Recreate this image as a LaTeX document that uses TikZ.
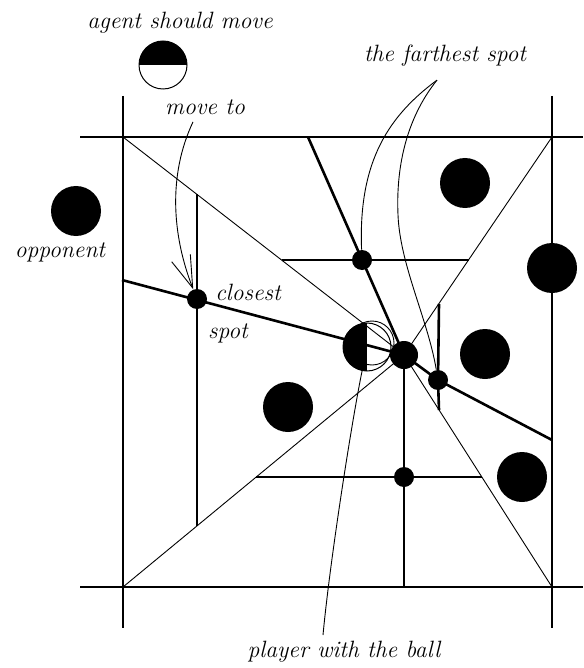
\documentclass[tikz,border=0pt]{standalone}
\usepackage{tikz}
\usetikzlibrary{arrows.meta,calc}

\begin{document}
\begin{tikzpicture}[x=0.5pt, y=-0.5pt,
  field/.style={line width=0.6pt},
  wedge/.style={line width=0.45pt},
  cell/.style={line width=1.3pt},
  pointer/.style={line width=0.45pt},
  opp/.style={circle, fill=black, minimum size=25pt, inner sep=0pt},
  spot/.style={circle, fill=black, minimum size=10pt, inner sep=0pt},
  balldot/.style={circle, fill=black, minimum size=14pt, inner sep=0pt},
  halfleft/.style={circle, draw, line width=0.5pt, minimum size=24pt, inner sep=0pt,
    path picture={\fill (path picture bounding box.south west) rectangle (path picture bounding box.north);}},
  halftop/.style={circle, draw, line width=0.5pt, minimum size=24pt, inner sep=0pt,
    path picture={\fill (path picture bounding box.north west) rectangle (path picture bounding box.east);}},
  lbl/.style={font=\fontsize{11.8}{14}\selectfont\itshape, inner sep=0pt}
]
  \fill[white] (0,0) rectangle (583,668);
  \useasboundingbox (0,0) rectangle (583,668);

  % Field
  \draw[field] (123,96) -- (123,628);
  \draw[field] (552,96) -- (552,628);
  \draw[field] (80,137) -- (583,137);
  \draw[field] (80,587) -- (583,587);
  \coordinate (tl) at (123,137);
  \coordinate (tr) at (552,137);
  \coordinate (bl) at (123,587);
  \coordinate (br) at (552,587);

  % Nodes
  \node[balldot] (ball) at (404,355) {};
  \node[spot] (farA) at (362,260) {};
  \node[spot] (farB) at (438,380) {};
  \node[spot] (spotC) at (404,477) {};
  \node[spot] (closest) at (197,299) {};
  \node[opp] (opp1) at (76,211) {};
  \node[opp] (opp2) at (465,183) {};
  \node[opp] (opp3) at (552,268) {};
  \node[opp] (opp4) at (485,354) {};
  \node[opp] (opp5) at (522,477) {};
  \node[opp] (opp6) at (288,407) {};
  \node[halfleft] (carrier) at (367,347) {};
  \draw[wedge] (372,343) circle[radius=22];
  \node[halftop] (agent) at (163,65) {};

  \node[lbl] (agentlbl) at (180,23) {agent should move};
  \node[lbl] (movelbl) at (205,107) {move to};
  \node[lbl] (farlbl) at (445,56) {the farthest spot};
  \node[lbl] (opplbl) at (60,252) {opponent};
  \node[lbl] (closelbl) at (248,292) {closest};
  \node[lbl] (spotlbl) at (228,333) {spot};
  \node[lbl] (carrierlbl) at (344,652) {player with the ball};

  % Wedges to the corners
  \foreach \c in {tl,tr,bl,br}
    \draw[wedge] (\c) -- (ball.center);

  % Cell borders
  \coordinate (ctop) at (308,137);
  \coordinate (cleft) at (122,280);
  \coordinate (cright) at (552,440);
  \coordinate (cbot) at (404,587);
  \draw[cell] (ctop) -- (ball.center);
  \draw[cell] (cleft) -- (ball.center);
  \draw[cell] (ball.center) -- (farB.center) -- (cright);
  \draw[cell] (ball.center) -- (cbot);
  \draw[cell] (281.5,260) -- (farA.center) -- (468.5,260);
  \draw[cell] (256,477) -- (spotC.center) -- (482,477);
  \draw[cell] (197,194) -- (closest.center) -- (197,526);
  \draw[cell] (439,304) -- (farB.center) -- (439,410);

  % Pointers
  \coordinate (apex) at ($(farlbl.south)+(-8,13)$);
  \draw[pointer, -{Straight Barb[length=16pt,width=10pt]}]
    ([xshift=-6pt,yshift=-3.5pt]movelbl.south) .. controls (168,175) and (172,235) .. (closest);
  \draw[pointer] (apex) .. controls (390,115) and (358,160) .. (farA);
  \draw[pointer] (apex) .. controls (405,120) and (396,170) .. (398,215)
    .. controls (400,265) and (428,320) .. (farB);
  \draw[pointer] ([xshift=-10.5pt,yshift=3pt]carrierlbl.north) .. controls (330,560) and (352,420) .. (carrier);

\end{tikzpicture}
\end{document}
